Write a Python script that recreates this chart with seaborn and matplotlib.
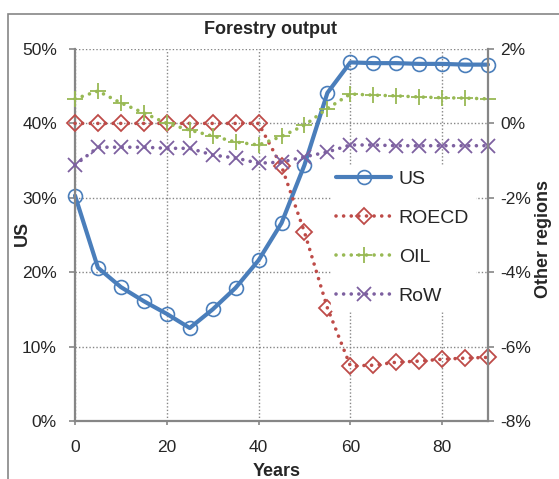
import matplotlib
matplotlib.use("Agg")
import matplotlib.pyplot as plt
import matplotlib.ticker as mtick
from matplotlib.patches import Rectangle
from matplotlib.lines import Line2D
import seaborn as sns

years = [0, 5, 10, 15, 20, 25, 30, 35, 40, 45, 50, 55, 60, 65, 70, 75, 80, 85, 90]
us = [30.3, 20.6, 18.0, 16.1, 14.4, 12.5, 15.0, 17.9, 21.6, 26.6, 34.4, 44.1,
      48.2, 48.1, 48.1, 48.0, 48.0, 47.9, 47.9]
roecd = [0.0, 0.0, 0.0, 0.0, 0.0, 0.0, 0.0, 0.0, 0.0, -1.15, -2.92, -4.96,
         -6.52, -6.50, -6.42, -6.39, -6.34, -6.31, -6.29]
oil = [0.66, 0.87, 0.55, 0.28, 0.0, -0.18, -0.34, -0.50, -0.58, -0.35, -0.05, 0.40,
       0.79, 0.76, 0.74, 0.71, 0.69, 0.68, 0.66]
row = [-1.12, -0.64, -0.64, -0.64, -0.67, -0.67, -0.85, -0.93, -1.07, -1.04, -0.90, -0.77,
       -0.58, -0.58, -0.60, -0.60, -0.60, -0.60, -0.60]

series_names = ["US", "ROECD", "OIL", "RoW"]
colors = {"US": "#4A7EBB", "ROECD": "#BE4B48", "OIL": "#98B954", "RoW": "#7D60A0"}
markers = {"US": "o", "ROECD": "D", "OIL": "+", "RoW": "x"}
msizes = {"US": 10, "ROECD": 8.5, "OIL": 11, "RoW": 10}

sns.set_style("white")
plt.rcParams["font.family"] = ["Liberation Sans", "DejaVu Sans"]

grey = "#868686"
fig = plt.figure(figsize=(5.59, 4.79), dpi=100)
ax = fig.add_axes([75 / 559, 1 - 421 / 479, 413 / 559, 372 / 479])
ax2 = ax.twinx()

dotted = (0, (0.01, 2.1))

sns.lineplot(x=years, y=us, ax=ax, color=colors["US"], linewidth=3, marker="o",
             markersize=msizes["US"], markerfacecolor="none",
             markeredgecolor=colors["US"], markeredgewidth=1.2, errorbar=None,
             clip_on=False)
for name, vals in [("ROECD", roecd), ("OIL", oil), ("RoW", row)]:
    sns.lineplot(x=years, y=vals, ax=ax2, color=colors[name], linewidth=2.6,
                 linestyle=dotted, dash_capstyle="round", marker=markers[name],
                 markersize=msizes[name], markerfacecolor="none",
                 markeredgecolor=colors[name], markeredgewidth=1.3, errorbar=None,
                 clip_on=False)

ax.set_xlim(0, 90)
ax.set_ylim(0, 50)
ax2.set_ylim(-8, 2)
ax.set_xticks([0, 20, 40, 60, 80])
ax.set_yticks([0, 10, 20, 30, 40, 50])
ax2.set_yticks([-8, -6, -4, -2, 0, 2])
ax.yaxis.set_major_formatter(mtick.FuncFormatter(lambda v, p: f"{v:.0f}%"))
ax2.yaxis.set_major_formatter(mtick.FuncFormatter(lambda v, p: f"{v:.0f}%"))

ax.grid(True, color=grey, linestyle=(0, (1, 1.5)), linewidth=1)
ax2.grid(False)
ax.set_axisbelow(True)

for a in (ax, ax2):
    for s in a.spines.values():
        s.set_visible(False)
ax.spines["left"].set_visible(True)
ax.spines["bottom"].set_visible(True)
ax2.spines["right"].set_visible(True)
for s in [ax.spines["left"], ax.spines["bottom"], ax2.spines["right"]]:
    s.set_color(grey)
    s.set_linewidth(1.6)

ax.tick_params(axis="x", direction="out", length=3, width=1.2, color=grey,
               labelsize=12.5, pad=11, bottom=True)
ax.tick_params(axis="y", direction="out", length=4, width=1.2, color=grey,
               labelsize=12.5, pad=9, left=True)
ax2.tick_params(axis="y", direction="out", length=4, width=1.2, color=grey,
                labelsize=12.5, pad=5, right=True)
ax.set_xlabel("")
ax.set_ylabel("")
ax2.set_ylabel("")

handles = [
    Line2D([], [], color=colors["US"], linewidth=3, marker="o", markersize=msizes["US"],
           markerfacecolor="none", markeredgecolor=colors["US"], markeredgewidth=1.2)
]
for name in ["ROECD", "OIL", "RoW"]:
    handles.append(Line2D([], [], color=colors[name], linewidth=2.6, linestyle=dotted,
                          dash_capstyle="round", marker=markers[name],
                          markersize=msizes[name], markerfacecolor="none",
                          markeredgecolor=colors[name], markeredgewidth=1.3))
for a in (ax, ax2):
    if a.get_legend() is not None:
        a.get_legend().remove()
leg = ax2.legend(handles, series_names, loc="upper left", bbox_to_anchor=(0.619, 0.689),
                 frameon=True, fontsize=14, handlelength=2.8, handletextpad=0.4,
                 labelspacing=1.1, borderpad=0.3, borderaxespad=0)
leg.get_frame().set_facecolor("white")
leg.get_frame().set_edgecolor("white")
leg.get_frame().set_alpha(1)

fig.text(270 / 559, 1 - 29 / 479, "Forestry output", ha="center", va="center",
         fontsize=13, fontweight="bold")
fig.text(22 / 559, 1 - 233 / 479, "US", ha="center", va="center", rotation=90,
         fontsize=13, fontweight="bold")
fig.text(543 / 559, 1 - 239 / 479, "Other regions", ha="center", va="center",
         rotation=90, fontsize=13, fontweight="bold")
fig.text(277 / 559, 1 - 472 / 479, "Years", ha="center", va="center",
         fontsize=13, fontweight="bold")

fig.patches.append(Rectangle((8 / 559, -0.1), 1.2, 1.1 - 14 / 479,
                             transform=fig.transFigure, fill=False,
                             edgecolor=grey, linewidth=1.2))

fig.savefig("out.png", dpi=100)
